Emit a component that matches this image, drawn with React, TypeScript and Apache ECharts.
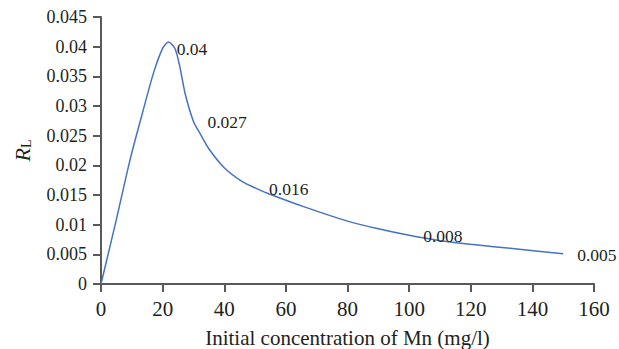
import React, { useEffect, useRef } from "react";
import * as echarts from "echarts";

const concentration = [0, 5, 9.5, 13.7, 17, 20, 21.9, 24, 25.6, 27.3, 30, 32, 35, 40, 46, 50, 54, 66, 80, 90, 100, 110, 120, 135, 150];
const rlValues = [0, 0.0109, 0.0211, 0.0293, 0.0355, 0.0397, 0.0408, 0.0397, 0.0366, 0.0321, 0.0274, 0.0255, 0.0228, 0.0196, 0.0172, 0.0162, 0.0153, 0.013, 0.0106, 0.0093, 0.0082, 0.0073, 0.0067, 0.0059, 0.0051];
const pointLabels: Record<number, string> = { 20: "0.04", 30: "0.027", 50: "0.016", 100: "0.008", 150: "0.005" };

const xTitle = "Initial concentration of Mn (mg/l)";
const FONT = "'Liberation Serif', 'Times New Roman', serif";
const TEXT = "#231f20";
const AXIS = "#595959";

export default function App() {
  const ref = useRef<HTMLDivElement>(null);
  useEffect(() => {
    if (!ref.current) return;
    const chart = echarts.init(ref.current, null, { renderer: "svg" });
    const data = concentration.map((c, i) => [c, rlValues[i]]);
    chart.setOption({
      animation: false,
      backgroundColor: "#ffffff",
      grid: { left: 101, right: 25, top: 17, bottom: 65, containLabel: false, outerBoundsMode: "none" },
      xAxis: {
        type: "value",
        min: 0,
        max: 160,
        interval: 20,
        name: xTitle,
        nameLocation: "middle",
        nameGap: 43,
        nameTextStyle: { fontFamily: FONT, fontSize: 21, lineHeight: 21, color: TEXT },
        axisLine: { show: true, onZero: false, lineStyle: { color: AXIS, width: 2 } },
        axisTick: { show: true, inside: false, length: 8, lineStyle: { color: AXIS, width: 2 } },
        axisLabel: { fontFamily: FONT, fontSize: 21, color: TEXT, margin: 14 },
        splitLine: { show: false },
      },
      yAxis: {
        type: "value",
        min: 0,
        max: 0.045,
        interval: 0.005,
        name: "{r|R}{s|L}",
        nameLocation: "middle",
        nameRotate: 90,
        nameGap: 68,
        nameTextStyle: {
          color: TEXT,
          rich: {
            r: { fontFamily: FONT, fontStyle: "italic", fontSize: 22, lineHeight: 22, verticalAlign: "top", color: TEXT },
            s: { fontFamily: FONT, fontSize: 14, lineHeight: 14, verticalAlign: "bottom", padding: [13, 0, 0, 0], color: TEXT },
          },
        },
        axisLine: { show: true, lineStyle: { color: AXIS, width: 2 } },
        axisTick: { show: true, inside: false, length: 8, lineStyle: { color: AXIS, width: 2 } },
        axisLabel: { fontFamily: FONT, fontSize: 18, color: TEXT, margin: 14 },
        splitLine: { show: false },
      },
      series: [
        {
          type: "line",
          data,
          smooth: 0.25,
          symbol: "circle",
          symbolSize: 0,
          showSymbol: true,
          lineStyle: { color: "#4472c4", width: 1.5 },
          itemStyle: { color: "#4472c4" },
          label: {
            show: true,
            position: "right",
            distance: 14,
            offset: [0, 1],
            fontFamily: FONT,
            fontSize: 17.5,
            color: TEXT,
            formatter: (p: any) => pointLabels[concentration[p.dataIndex]] ?? "",
          },
        },
      ],
    });
    return () => chart.dispose();
  }, []);
  return (
    <div
      ref={ref}
      style={{ position: "fixed", left: 0, top: 0, width: 619, height: 349, background: "#ffffff" }}
    />
  );
}
